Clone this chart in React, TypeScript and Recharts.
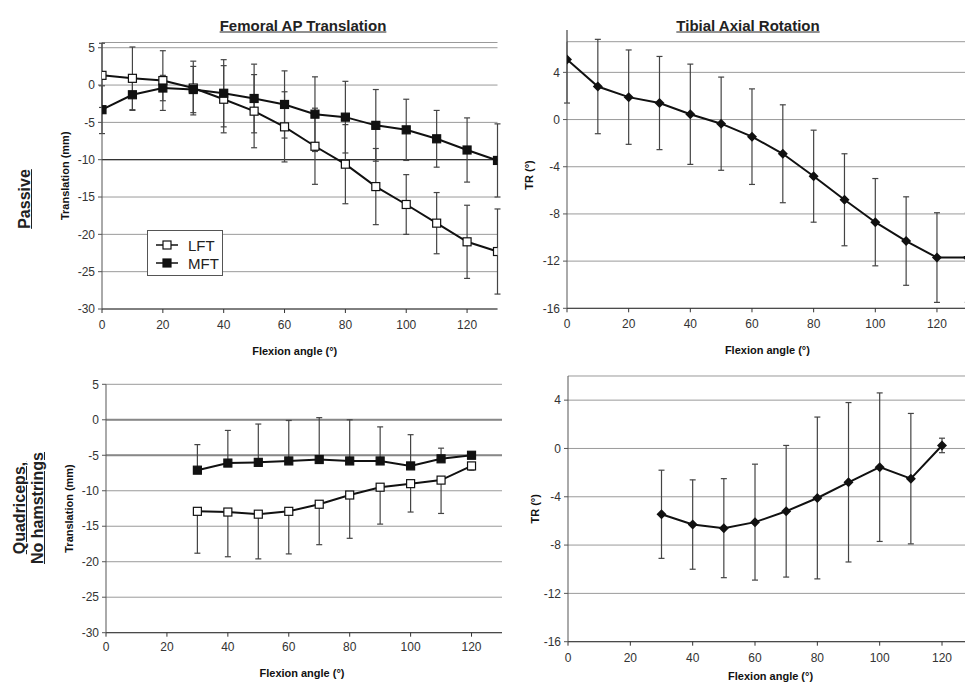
import React from "react";
import { LineChart, Line, XAxis, YAxis, CartesianGrid, ErrorBar, ReferenceLine, Legend } from "recharts";

const FONT = '"Liberation Sans", Arial, sans-serif';

// flexion angles (deg)
const PASSIVE_ANGLES = [0, 10, 20, 30, 40, 50, 60, 70, 80, 90, 100, 110, 120, 130];
const QUAD_ANGLES = [30, 40, 50, 60, 70, 80, 90, 100, 110, 120];
const X_TICKS = [0, 20, 40, 60, 80, 100, 120];

// femoral AP translation, passive (mm)
const PASSIVE_LFT = [1.3, 0.9, 0.6, -0.4, -1.9, -3.5, -5.6, -8.2, -10.6, -13.6, -16.0, -18.5, -21.0, -22.3];
const PASSIVE_LFT_SD = [4.3, 4.2, 4.0, 3.6, 4.5, 4.9, 4.7, 5.1, 5.3, 5.1, 4.0, 4.1, 4.9, 5.7];
const PASSIVE_MFT = [-3.3, -1.3, -0.4, -0.6, -1.1, -1.8, -2.6, -3.9, -4.3, -5.4, -6.0, -7.2, -8.7, -10.1];
const PASSIVE_MFT_SD = [3.2, 2.1, 1.7, 3.1, 4.5, 4.6, 4.5, 5.0, 4.8, 4.8, 4.1, 3.8, 4.3, 4.9];

// tibial rotation, passive (deg)
const PASSIVE_TR = [5.1, 2.8, 1.9, 1.4, 0.45, -0.35, -1.45, -2.9, -4.8, -6.8, -8.7, -10.3, -11.7, -11.7];
const PASSIVE_TR_SD = [3.7, 4.0, 4.0, 3.95, 4.25, 3.95, 4.05, 4.15, 3.9, 3.9, 3.7, 3.75, 3.8, 3.8];

// femoral AP translation, quadriceps (mm)
const QUAD_LFT = [-12.9, -13.0, -13.3, -12.9, -11.9, -10.6, -9.5, -9.0, -8.5, -6.5];
const QUAD_LFT_SD = [5.9, 6.3, 6.3, 6.0, 5.7, 6.1, 5.2, 4.0, 4.7, 0.6];
const QUAD_MFT = [-7.1, -6.1, -6.0, -5.8, -5.6, -5.8, -5.8, -6.5, -5.5, -5.0];
const QUAD_MFT_SD = [3.6, 4.6, 5.4, 5.7, 5.9, 5.8, 4.8, 4.4, 1.5, 0.3];

// tibial rotation, quadriceps (deg)
const QUAD_TR = [-5.45, -6.3, -6.6, -6.1, -5.2, -4.1, -2.8, -1.55, -2.5, 0.25];
const QUAD_TR_SD = [3.65, 3.7, 4.1, 4.8, 5.45, 6.7, 6.6, 6.15, 5.4, 0.6];

const TRANS_TICKS = [-30, -25, -20, -15, -10, -5, 0, 5];
const TR_TICKS = [-16, -12, -8, -4, 0, 4];

const passiveTransData = PASSIVE_ANGLES.map((angle, i) => ({
  angle,
  lft: PASSIVE_LFT[i],
  lftErr: PASSIVE_LFT_SD[i],
  mft: PASSIVE_MFT[i],
  mftErr: PASSIVE_MFT_SD[i],
}));
const passiveTrData = PASSIVE_ANGLES.map((angle, i) => ({ angle, tr: PASSIVE_TR[i], trErr: PASSIVE_TR_SD[i] }));
// quad panel: MFT bars drawn upward only, LFT bars downward only
const quadTransData = QUAD_ANGLES.map((angle, i) => ({
  angle,
  lft: QUAD_LFT[i],
  lftErr: [QUAD_LFT_SD[i], 0],
  mft: QUAD_MFT[i],
  mftErr: [0, QUAD_MFT_SD[i]],
}));
const quadTrData = QUAD_ANGLES.map((angle, i) => ({ angle, tr: QUAD_TR[i], trErr: QUAD_TR_SD[i] }));

const squareDot = (fill: string) => (props: any) => {
  const { cx, cy, index } = props;
  if (cx == null || cy == null) return <g key={index} />;
  return <rect key={index} x={cx - 4} y={cy - 4} width={8} height={8} fill={fill} stroke="#111" strokeWidth={1.2} />;
};

const diamondDot = (props: any) => {
  const { cx, cy, index } = props;
  if (cx == null || cy == null) return <g key={index} />;
  return <polygon key={index} points={`${cx},${cy - 5} ${cx + 5},${cy} ${cx},${cy + 5} ${cx - 5},${cy}`} fill="#111" />;
};

type SeriesDef = { key: string; errKey: string; name: string; dot: any };

const TRANS_SERIES: SeriesDef[] = [
  { key: "lft", errKey: "lftErr", name: "LFT", dot: squareDot("#fff") },
  { key: "mft", errKey: "mftErr", name: "MFT", dot: squareDot("#111") },
];
const TR_SERIES: SeriesDef[] = [{ key: "tr", errKey: "trErr", name: "TR", dot: diamondDot }];

const tickStyle = { fill: "#333", fontSize: 12, fontFamily: FONT };
const axisLabelStyle = { fill: "#111", fontSize: 11, fontWeight: 700, fontFamily: FONT };

function LegendBox() {
  const rows = [
    { name: "LFT", fill: "#fff" },
    { name: "MFT", fill: "#111" },
  ];
  return (
    <div style={{ width: 76, height: 46, border: "1px solid #555", background: "#fff", boxSizing: "border-box", paddingTop: 5 }}>
      {rows.map((r) => (
        <div key={r.name} style={{ display: "flex", alignItems: "center", height: 18, fontFamily: FONT, fontSize: 15, color: "#222" }}>
          <svg width={40} height={14}>
            <line x1={8} y1={7} x2={30} y2={7} stroke="#111" strokeWidth={1.5} />
            <rect x={15} y={3} width={8} height={8} fill={r.fill} stroke="#111" strokeWidth={1.2} />
          </svg>
          <span>{r.name}</span>
        </div>
      ))}
    </div>
  );
}

interface PanelProps {
  left: number;
  top: number;
  width: number;
  height: number;
  marginTop: number;
  marginRight: number;
  yWidth: number;
  xHeight: number;
  data: any[];
  series: SeriesDef[];
  yDomain: [number, number];
  yTicks: number[];
  yLabel: string;
  yLabelDx: number;
  xLabelOffset: number;
  xLabelDx: number;
  tickMargin: number;
  refLines?: { y: number; stroke: string; width: number }[];
  legend?: boolean;
}

function Panel(p: PanelProps) {
  return (
    <div style={{ position: "absolute", left: p.left, top: p.top }}>
      <LineChart
        width={p.width}
        height={p.height}
        data={p.data}
        margin={{ top: p.marginTop, right: p.marginRight, left: 0, bottom: 0 }}
      >
        <CartesianGrid horizontal vertical={false} stroke="#9a9a9a" />
        {(p.refLines || []).map((r) => (
          <ReferenceLine key={r.y} y={r.y} stroke={r.stroke} strokeWidth={r.width} />
        ))}
        <XAxis
          dataKey="angle"
          type="number"
          domain={[0, 130]}
          ticks={X_TICKS}
          allowDataOverflow
          height={p.xHeight}
          tick={tickStyle}
          tickSize={4}
          tickMargin={p.tickMargin}
          stroke="#333"
          label={{ value: "Flexion angle (°)", position: "insideBottom", offset: p.xLabelOffset, dx: p.xLabelDx, style: axisLabelStyle }}
        />
        <YAxis
          type="number"
          domain={p.yDomain}
          ticks={p.yTicks}
          allowDataOverflow
          width={p.yWidth}
          tick={tickStyle}
          tickSize={4}
          tickMargin={3}
          stroke="#555"
          label={{ value: p.yLabel, angle: -90, position: "center", dx: p.yLabelDx, style: axisLabelStyle }}
        />
        {p.legend && (
          <Legend
            layout="vertical"
            align="center"
            verticalAlign="middle"
            wrapperStyle={{ left: 105, top: 200, width: 76 }}
            content={() => <LegendBox />}
          />
        )}
        {p.series.map((s) => (
          <Line
            key={s.key}
            type="linear"
            dataKey={s.key}
            name={s.name}
            stroke="#111"
            strokeWidth={2}
            dot={s.dot}
            activeDot={false}
            isAnimationActive={false}
          >
            <ErrorBar dataKey={s.errKey} width={3} stroke="#444" strokeWidth={1.2} direction="y" />
          </Line>
        ))}
      </LineChart>
    </div>
  );
}

const titleStyle: React.CSSProperties = {
  position: "absolute",
  transform: "translate(-50%, -50%)",
  fontFamily: FONT,
  fontWeight: 700,
  fontSize: 15,
  textDecoration: "underline",
  whiteSpace: "nowrap",
  color: "#222",
};

const rowLabelStyle: React.CSSProperties = {
  position: "absolute",
  transform: "translate(-50%, -50%) rotate(-90deg)",
  fontFamily: FONT,
  fontWeight: 700,
  fontSize: 16,
  lineHeight: "18px",
  textDecoration: "underline",
  whiteSpace: "nowrap",
  textAlign: "center",
  color: "#222",
};

export default function App() {
  return (
    <div style={{ position: "fixed", left: 0, top: 0, width: 965, height: 684, overflow: "hidden", background: "#fff" }}>
      <div style={{ ...titleStyle, left: 303, top: 25 }}>Femoral AP Translation</div>
      <div style={{ ...titleStyle, left: 748, top: 25 }}>Tibial Axial Rotation</div>
      <div style={{ ...rowLabelStyle, left: 25, top: 199 }}>Passive</div>
      <div style={{ ...rowLabelStyle, left: 29, top: 508 }}>
        Quadriceps,
        <br />
        No hamstrings
      </div>

      <Panel
        left={42}
        top={30}
        width={460.5}
        height={329}
        marginTop={12.5}
        marginRight={5}
        yWidth={60}
        xHeight={50}
        data={passiveTransData}
        series={TRANS_SERIES}
        yDomain={[-30, 5.7]}
        yTicks={TRANS_TICKS}
        yLabel="Translation (mm)"
        yLabelDx={-7}
        xLabelOffset={4}
        xLabelDx={-5}
        tickMargin={7}
        refLines={[{ y: -10, stroke: "#333", width: 1.2 }]}
        legend
      />
      <Panel
        left={521.7}
        top={30}
        width={450.8}
        height={328.3}
        marginTop={11.7}
        marginRight={5}
        yWidth={45}
        xHeight={50}
        data={passiveTrData}
        series={TR_SERIES}
        yDomain={[-16, 6.6]}
        yTicks={TR_TICKS}
        yLabel="TR (°)"
        yLabelDx={-15}
        xLabelOffset={4}
        xLabelDx={0}
        tickMargin={7}
      />
      <Panel
        left={46}
        top={372}
        width={461}
        height={310.7}
        marginTop={12.3}
        marginRight={5}
        yWidth={60}
        xHeight={50}
        data={quadTransData}
        series={TRANS_SERIES}
        yDomain={[-30, 5]}
        yTicks={TRANS_TICKS}
        yLabel="Translation (mm)"
        yLabelDx={-7}
        xLabelOffset={6}
        xLabelDx={-2}
        tickMargin={6}
        refLines={[
          { y: 0, stroke: "#888", width: 2 },
          { y: -5, stroke: "#888", width: 2 },
        ]}
      />
      <Panel
        left={522.7}
        top={364}
        width={455.2}
        height={325.7}
        marginTop={12}
        marginRight={5}
        yWidth={45}
        xHeight={48}
        data={quadTrData}
        series={TR_SERIES}
        yDomain={[-16, 6]}
        yTicks={TR_TICKS}
        yLabel="TR (°)"
        yLabelDx={-10}
        xLabelOffset={10}
        xLabelDx={0}
        tickMargin={8}
      />
    </div>
  );
}
